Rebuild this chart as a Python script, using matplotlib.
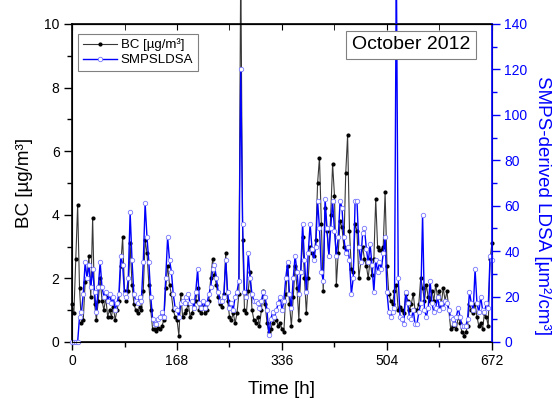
import numpy as np
import matplotlib
matplotlib.use("Agg")
from matplotlib import pyplot as plt

plt.rcParams['font.family'] = ['Liberation Sans', 'DejaVu Sans']

# time axis, 3-hourly samples over October 2012
hours = np.arange(0, 673, 3)

# black carbon [ug/m3], one row per day
bc = [
    1.2, 0.9, 2.6, 4.3, 1.7, 0.6, 0.7, 1.9,
    2.0, 2.7, 1.4, 3.9, 1.2, 0.7, 1.3, 2.0,
    1.3, 1.0, 1.4, 0.8, 1.0, 0.8, 1.1, 0.7,
    1.0, 1.3, 2.4, 3.3, 1.6, 1.3, 1.6, 3.1,
    1.8, 1.2, 1.0, 0.9, 1.1, 1.0, 1.6, 3.2,
    2.8, 1.8, 1.0, 0.4, 0.4, 0.35, 0.45, 0.4,
    0.5, 0.7, 1.7, 2.4, 1.8, 1.5, 1.0, 0.8,
    0.7, 0.2, 1.5, 0.8, 0.9, 1.0, 1.2, 0.8,
    0.9, 1.1, 1.3, 1.7, 1.0, 0.9, 1.1, 0.9,
    1.0, 1.3, 2.0, 2.6, 2.1, 1.8, 1.4, 1.2,
    1.1, 1.5, 2.8, 1.3, 0.8, 0.7, 0.9, 0.6,
    0.9, 1.5, 12.0, 3.2, 1.0, 0.9, 1.6, 2.2,
    1.0, 0.7, 0.6, 0.8, 0.5, 1.0, 1.6, 1.2,
    0.6, 0.3, 0.4, 0.6, 0.8, 0.7, 0.5, 0.6,
    0.4, 0.3, 1.5, 2.4, 1.2, 0.5, 1.4, 2.4,
    1.7, 0.7, 2.2, 3.3, 2.0, 0.9, 2.0, 3.0,
    2.8, 2.7, 3.2, 5.0, 5.8, 3.7, 1.6, 4.2,
    3.5, 2.7, 4.0, 5.6, 4.6, 1.8, 2.8, 3.8,
    3.6, 3.0, 5.3, 6.5, 3.5, 2.3, 2.2, 3.7,
    3.5, 2.0, 2.5, 3.0, 2.6, 2.4, 2.0, 2.6,
    2.1, 2.6, 4.5, 3.0, 2.9, 2.9, 3.0, 4.7,
    2.4, 1.5, 1.3, 1.2, 1.6, 1.8, 1.0, 1.1,
    1.0, 0.9, 1.5, 1.3, 1.0, 1.2, 1.5, 1.0,
    1.0, 1.2, 2.0, 1.7, 1.3, 1.8, 1.4, 1.3,
    1.6, 1.3, 1.8, 1.4, 1.6, 1.2, 1.7, 1.3,
    1.6, 1.0, 0.4, 0.5, 0.6, 0.4, 0.8, 0.6,
    0.3, 0.2, 0.3, 0.5, 1.2, 1.0, 0.9, 1.2,
    0.8, 0.5, 0.6, 0.4, 0.9, 0.8, 0.5, 2.6,
    3.1,
]

# SMPS derived lung deposited surface area [um2/cm3]
ldsa = [
    0, 0, 0, 0, 11, 13, 21, 35,
    28, 34, 24, 32, 22, 13, 24, 35,
    24, 20, 22, 18, 21, 17, 20, 14,
    17, 21, 38, 34, 21, 20, 28, 57,
    36, 21, 18, 17, 20, 18, 35, 61,
    46, 35, 20, 10, 8, 8, 10, 11,
    13, 11, 28, 46, 36, 31, 21, 15,
    14, 11, 17, 18, 17, 20, 21, 17,
    18, 15, 22, 32, 17, 15, 18, 15,
    17, 21, 24, 32, 34, 28, 22, 18,
    18, 20, 36, 22, 15, 17, 14, 20,
    22, 27, 120, 52, 22, 20, 39, 28,
    21, 18, 18, 17, 15, 18, 22, 20,
    14, 3, 10, 13, 11, 14, 17, 20,
    14, 18, 28, 35, 21, 15, 28, 38,
    31, 21, 31, 52, 36, 22, 39, 52,
    41, 36, 42, 62, 50, 31, 27, 63,
    50, 38, 50, 62, 49, 38, 46, 62,
    59, 46, 39, 42, 36, 21, 28, 62,
    62, 42, 35, 48, 50, 41, 35, 43,
    34, 22, 36, 31, 35, 32, 39, 46,
    22, 13, 11, 13, 15, 168, 28, 11,
    10, 8, 22, 17, 11, 10, 14, 8,
    8, 13, 17, 56, 14, 11, 15, 27,
    17, 13, 15, 20, 14, 17, 15, 18,
    17, 14, 11, 10, 8, 11, 15, 11,
    7, 7, 7, 10, 22, 17, 14, 32,
    17, 13, 20, 14, 13, 17, 15, 38,
    36,
]

xticks = [0, 168, 336, 504, 672]

fig = plt.figure(figsize=(5.54, 3.99), dpi=100)
ax = fig.add_axes([0.130, 0.143, 0.758, 0.797])
ax2 = ax.twinx()

l1, = ax.plot(hours, bc, color='#383838', lw=0.8, marker='o', ms=2,
              mfc='black', mec='black', label='BC [µg/m³]', clip_on=False)
l2, = ax2.plot(hours, ldsa, color='#0000ff', lw=1.0, marker='o', ms=3.2,
               mfc='white', mec='#7878ff', mew=0.6, label='SMPSLDSA', clip_on=False)

ax.set_xlim(0, 672)
ax.set_ylim(0, 10)
ax2.set_ylim(0, 140)
ax.set_xticks(xticks)
ax.set_xticks([84, 252, 420, 588], minor=True)
ax.set_yticks(range(0, 11, 2))
ax.set_yticks(range(1, 10, 2), minor=True)
ax2.set_yticks(range(0, 141, 20))
ax2.set_yticks(range(10, 140, 20), minor=True)

ax.tick_params(which='major', length=6, width=1, labelsize=10, pad=3)
ax.tick_params(which='minor', length=3.5, width=1)
ax2.tick_params(which='major', length=6, width=1, labelsize=10, pad=3,
                colors='#0000ff')
ax2.tick_params(which='minor', length=3.5, width=1, colors='#0000ff')
ax2.spines['right'].set_color('#0000ff')
ax2.spines['right'].set_linewidth(1.2)
for s in ['left', 'bottom', 'top']:
    ax.spines[s].set_linewidth(1.2)

top = ax.secondary_xaxis('top')
top.set_xticks(xticks)
top.set_xticks([84, 252, 420, 588], minor=True)
top.tick_params(which='both', direction='in', length=4, labeltop=False)

ax.set_xlabel('Time [h]', fontsize=13.5, labelpad=9)
ax.set_ylabel('BC [µg/m³]', fontsize=13.5, labelpad=8)
ax2.set_ylabel('SMPS-derived LDSA [µm²/cm³]', fontsize=13.5, color='#0000ff',
               rotation=270, va='center')
ax2.yaxis.set_label_coords(1.121, 0.43)

ax2.text(0.807, 0.934, 'October 2012', transform=ax.transAxes, fontsize=14,
         ha='center', va='center',
         bbox=dict(boxstyle='square,pad=0.3', fc='white', ec='#808080', lw=0.8))

leg = ax2.legend(handles=[l1, l2], loc='upper left', bbox_to_anchor=(0.014, 0.969),
                 borderaxespad=0, fontsize=9.5, fancybox=False, framealpha=1,
                 edgecolor='#808080', handlelength=2.6, borderpad=0.35,
                 labelspacing=0.2, handletextpad=0.3)
leg.get_frame().set_linewidth(0.8)

fig.savefig('out.png', dpi=100)
